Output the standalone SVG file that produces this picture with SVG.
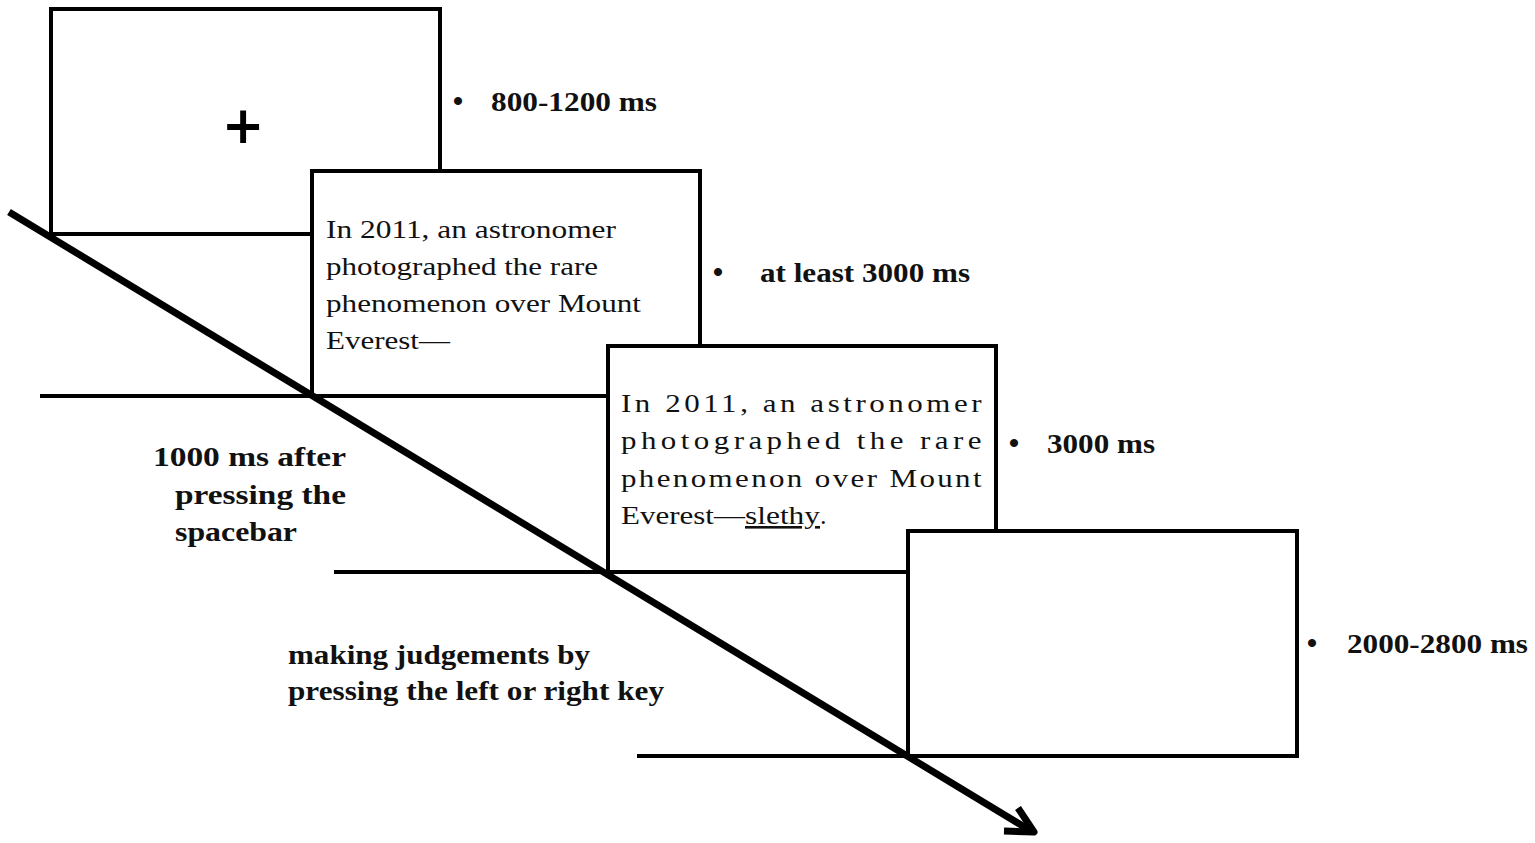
<svg xmlns="http://www.w3.org/2000/svg" width="1535" height="843" viewBox="0 0 1535 843">
  <style>
    .box { fill: #fff; stroke: #000; stroke-width: 4; }
    .base { stroke: #000; stroke-width: 4; fill: none; }
    .stim { font-family: "Liberation Serif", "Times New Roman", serif; font-size: 26px; fill: #111; }
    .lbl { font-family: "Liberation Serif", "Times New Roman", serif; font-size: 28px; font-weight: bold; fill: #111; }
    .bul { font-family: "Liberation Serif", "Times New Roman", serif; font-size: 30px; font-weight: bold; fill: #111; text-anchor: middle; }
    .fix { font-family: "DejaVu Sans", sans-serif; font-size: 51px; font-weight: bold; fill: #000; text-anchor: middle; }
    .timeline { stroke: #000; stroke-width: 7; fill: none; stroke-linecap: butt; stroke-linejoin: round; }
  </style>
  <rect width="1535" height="843" fill="#fff"/>

  <g id="screen1">
    <rect class="box" x="51" y="9" width="389" height="225"/>
    <text class="fix" x="243" y="143">+</text>
  </g>

  <g id="screen2">
    <rect class="box" x="312" y="171" width="388" height="225"/>
    <text class="stim" x="326" y="238" textLength="290" lengthAdjust="spacingAndGlyphs">In 2011, an astronomer</text>
    <text class="stim" x="326" y="275" textLength="272" lengthAdjust="spacingAndGlyphs">photographed the rare</text>
    <text class="stim" x="326" y="312" textLength="315" lengthAdjust="spacingAndGlyphs">phenomenon over Mount</text>
    <text class="stim" x="326" y="349" textLength="124" lengthAdjust="spacingAndGlyphs">Everest—</text>
  </g>

  <g id="base-lines">
    <line class="base" x1="40" y1="396" x2="312" y2="396"/>
    <line class="base" x1="334" y1="572" x2="608" y2="572"/>
    <line class="base" x1="637" y1="756" x2="908" y2="756"/>
  </g>

  <g id="screen3">
    <rect class="box" x="608" y="346" width="388" height="226"/>
    <g transform="translate(621 0) scale(1.19 1)">
      <text class="stim" x="0" y="412" textLength="303" lengthAdjust="spacing">In 2011, an astronomer</text>
      <text class="stim" x="0" y="449" textLength="303" lengthAdjust="spacing">photographed the rare</text>
      <text class="stim" x="0" y="487" textLength="303" lengthAdjust="spacing">phenomenon over Mount</text>
    </g>
    <text class="stim" x="621" y="524" textLength="124" lengthAdjust="spacingAndGlyphs">Everest—</text>
    <text class="stim" x="745" y="524" textLength="75" lengthAdjust="spacingAndGlyphs" text-decoration="underline">slethy</text>
    <text class="stim" x="820" y="524">.</text>
  </g>

  <g id="screen4">
    <rect class="box" x="908" y="531" width="389" height="225"/>
  </g>

  <g id="durations">
    <text class="bul" x="458" y="111">•</text>
    <text class="lbl" x="491" y="111" textLength="166" lengthAdjust="spacingAndGlyphs">800-1200 ms</text>
    <text class="bul" x="718" y="282">•</text>
    <text class="lbl" x="760" y="282" textLength="210" lengthAdjust="spacingAndGlyphs">at least 3000 ms</text>
    <text class="bul" x="1014" y="453">•</text>
    <text class="lbl" x="1047" y="453" textLength="108" lengthAdjust="spacingAndGlyphs">3000 ms</text>
    <text class="bul" x="1312" y="653">•</text>
    <text class="lbl" x="1347" y="653" textLength="181" lengthAdjust="spacingAndGlyphs">2000-2800 ms</text>
  </g>

  <g id="annotations">
    <text class="lbl" x="153" y="466" textLength="193" lengthAdjust="spacingAndGlyphs">1000 ms after</text>
    <text class="lbl" x="175" y="504" textLength="171" lengthAdjust="spacingAndGlyphs">pressing the</text>
    <text class="lbl" x="175" y="541" textLength="122" lengthAdjust="spacingAndGlyphs">spacebar</text>
    <text class="lbl" x="288" y="664" textLength="302" lengthAdjust="spacingAndGlyphs">making judgements by</text>
    <text class="lbl" x="288" y="700" textLength="376" lengthAdjust="spacingAndGlyphs">pressing the left or right key</text>
  </g>

  <g id="connectors">
    <line class="timeline" x1="9" y1="212" x2="1031" y2="831"/>
    <polyline class="timeline" points="1018,808 1034,832 1004,831"/>
  </g>
</svg>
